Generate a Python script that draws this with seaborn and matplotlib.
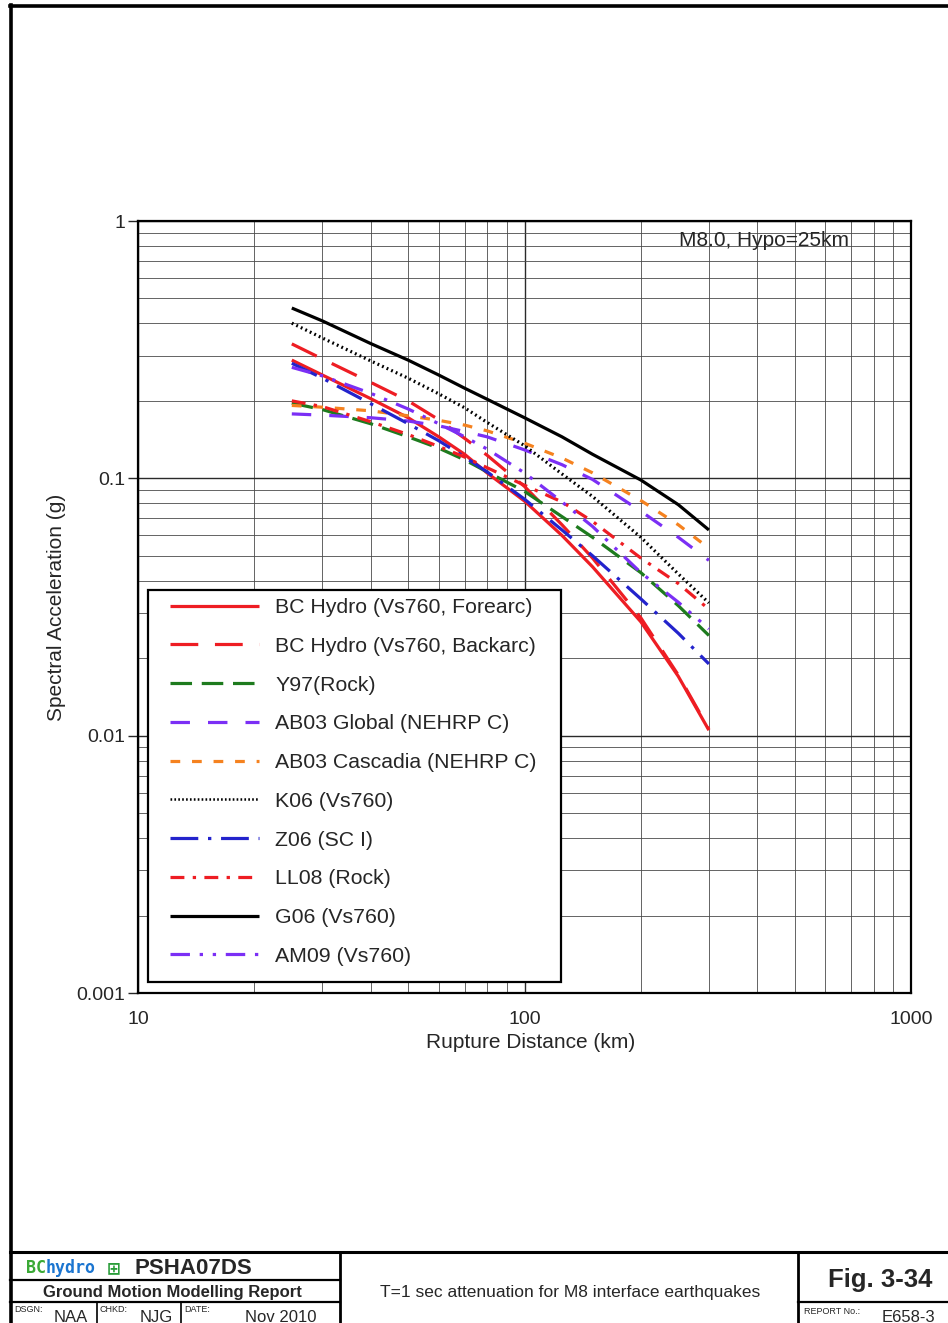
import numpy as np
import pandas as pd
import seaborn as sns
import matplotlib
matplotlib.use("Agg")
import matplotlib.pyplot as plt
from matplotlib.lines import Line2D
from matplotlib.patches import Rectangle
from matplotlib.ticker import LogLocator, FixedLocator, FixedFormatter, NullFormatter
from matplotlib import font_manager as fm

# ---------------- data ----------------
distance_km = [25, 30, 40, 50, 60, 70, 80, 100, 125, 150, 200, 250, 300]

bchydro_forearc = [0.288, 0.252, 0.204, 0.172, 0.145, 0.124, 0.105, 0.0816, 0.0600, 0.0453, 0.0277, 0.0170, 0.0105]
bchydro_backarc = [0.333, 0.291, 0.236, 0.200, 0.169, 0.143, 0.123, 0.093, 0.066, 0.049, 0.0287, 0.0172, 0.0106]
y97_rock        = [0.196, 0.185, 0.163, 0.145, 0.131, 0.118, 0.106, 0.089, 0.071, 0.059, 0.043, 0.032, 0.0245]
ab03_global     = [0.178, 0.176, 0.172, 0.167, 0.160, 0.152, 0.145, 0.129, 0.113, 0.099, 0.0745, 0.059, 0.048]
ab03_cascadia   = [0.192, 0.189, 0.183, 0.175, 0.168, 0.161, 0.153, 0.137, 0.120, 0.105, 0.082, 0.066, 0.0535]
k06             = [0.401, 0.351, 0.286, 0.245, 0.213, 0.188, 0.165, 0.134, 0.104, 0.085, 0.059, 0.0425, 0.0328]
z06             = [0.280, 0.245, 0.195, 0.163, 0.140, 0.121, 0.106, 0.083, 0.063, 0.050, 0.034, 0.025, 0.019]
ll08            = [0.200, 0.190, 0.166, 0.148, 0.133, 0.121, 0.110, 0.094, 0.081, 0.068, 0.049, 0.039, 0.031]
g06             = [0.459, 0.409, 0.334, 0.288, 0.252, 0.224, 0.203, 0.172, 0.145, 0.124, 0.0985, 0.079, 0.063]
am09            = [0.270, 0.250, 0.214, 0.186, 0.163, 0.145, 0.130, 0.105, 0.081, 0.065, 0.043, 0.033, 0.026]

series_names = ["BC Hydro (Vs760, Forearc)", "BC Hydro (Vs760, Backarc)", "Y97(Rock)",
                "AB03 Global (NEHRP C)", "AB03 Cascadia (NEHRP C)", "K06 (Vs760)",
                "Z06 (SC I)", "LL08 (Rock)", "G06 (Vs760)", "AM09 (Vs760)"]
series_values = [bchydro_forearc, bchydro_backarc, y97_rock, ab03_global, ab03_cascadia,
                 k06, z06, ll08, g06, am09]

x_tick_values = [10, 100, 1000]
x_tick_labels = ["10", "100", "1000"]
y_tick_values = [0.001, 0.01, 0.1, 1]
y_tick_labels = ["0.001", "0.01", "0.1", "1"]

# ---------------- styles ----------------
RED, GREEN, PURPLE, ORANGE, BLUE, BLACK = "#ee1d23", "#1e7b1e", "#7b2ff5", "#f5821f", "#2323cc", "#000000"
colors = [RED, RED, GREEN, PURPLE, ORANGE, BLACK, BLUE, RED, BLACK, PURPLE]
dash_styles = [None, (20, 12), (15.5, 7), (14, 13), (7, 8.5), (1.3, 2.3),
               (20, 7, 2.4, 7), (10, 6, 2.4, 6), None, (14, 7, 2.4, 7, 2.4, 7)]

sns.set_style("white")
plt.rcParams["font.family"] = ["Liberation Sans", "DejaVu Sans"]
plt.rcParams["lines.scale_dashes"] = False
plt.rcParams["lines.solid_capstyle"] = "butt"


def has_font(name):
    try:
        fm.findfont(fm.FontProperties(family=name), fallback_to_default=False)
        return True
    except Exception:
        return False


narrow_ok = has_font("Liberation Sans Narrow")
NARROW = ["Liberation Sans Narrow", "Liberation Sans", "DejaVu Sans"] if narrow_ok \
    else ["Liberation Sans", "DejaVu Sans"]

W, H = 948, 1323
fig = plt.figure(figsize=(W / 100, H / 100), dpi=100)
fig.patch.set_facecolor("white")

ax_l, ax_r, ax_t, ax_b = 138, 911, 221, 993
ax = fig.add_axes([ax_l / W, 1 - ax_b / H, (ax_r - ax_l) / W, (ax_b - ax_t) / H])

handles = []
for name, vals, c, d in zip(series_names, series_values, colors, dash_styles):
    sns.lineplot(x=distance_km, y=vals, ax=ax, color=c, lw=2.3, legend=False,
                 estimator=None, sort=False)
    ln = ax.lines[-1]
    if d is not None:
        ln.set_dashes(d)
    ln.set_zorder(3)
    h = Line2D([0], [0], color=c, lw=2.3)
    if d is not None:
        h.set_dashes(d)
    if name.startswith("K06"):
        h.set_dashes((1.2, 1.6))
        h.set_linewidth(1.8)
    handles.append(h)

ax.set_xscale("log")
ax.set_yscale("log")
ax.set_xlim(10, 1000)
ax.set_ylim(0.001, 1)

ax.xaxis.set_major_locator(FixedLocator(x_tick_values))
ax.xaxis.set_major_formatter(FixedFormatter(x_tick_labels))
ax.yaxis.set_major_locator(FixedLocator(y_tick_values))
ax.yaxis.set_major_formatter(FixedFormatter(y_tick_labels))
ax.xaxis.set_minor_locator(LogLocator(base=10, subs=np.arange(2, 10), numticks=20))
ax.yaxis.set_minor_locator(LogLocator(base=10, subs=np.arange(2, 10), numticks=20))
ax.xaxis.set_minor_formatter(NullFormatter())
ax.yaxis.set_minor_formatter(NullFormatter())

ax.set_axisbelow(True)
ax.grid(which="major", color="#2a2a2a", lw=1.0)
ax.grid(which="minor", color="#4a4a4a", lw=0.6)

ax.tick_params(axis="x", which="both", length=0, pad=13, labelsize=14)
ax.tick_params(axis="y", which="major", length=7, width=1.0, pad=2, labelsize=14, left=True, direction="out")
ax.tick_params(axis="y", which="minor", length=0)
for s in ax.spines.values():
    s.set_linewidth(1.6)
    s.set_color("black")

ax.set_xlabel("Rupture Distance (km)", fontsize=15)
ax.set_ylabel("Spectral Acceleration (g)", fontsize=15)
ax.xaxis.set_label_coords((531 - ax_l) / (ax_r - ax_l), -(1033 - ax_b) / (ax_b - ax_t))
ax.yaxis.set_label_coords(-(ax_l - 66) / (ax_r - ax_l), 0.5)

ax.text((849 - ax_l) / (ax_r - ax_l), (ax_b - 240) / (ax_b - ax_t), "M8.0, Hypo=25km",
        transform=ax.transAxes, ha="right", va="center", fontsize=15, zorder=6)

# legend box drawn as a rectangle
aw, ah = ax_r - ax_l, ax_b - ax_t
ax.add_patch(Rectangle(((148 - ax_l) / aw, (ax_b - 982) / ah), (561 - 148) / aw, (982 - 590) / ah,
                       transform=ax.transAxes, facecolor="white", edgecolor="black", lw=1.6,
                       zorder=4.5, clip_on=False))
leg = ax.legend(handles, series_names, loc="upper left",
                bbox_to_anchor=((170 - ax_l) / aw, (ax_b - 598) / ah),
                frameon=False, fontsize=15.3, handlelength=4.2, handletextpad=0.75,
                labelspacing=0.93, borderpad=0, borderaxespad=0)
leg.set_zorder(5)


# ---------------- page frame & title block ----------------
def L(x0, y0, x1, y1, lw=1.5):
    fig.add_artist(Line2D([x0 / W, x1 / W], [1 - y0 / H, 1 - y1 / H], transform=fig.transFigure,
                          color="black", lw=lw, solid_capstyle="projecting"))


def T(x, y, s, **kw):
    kw.setdefault("va", "center")
    kw.setdefault("ha", "left")
    return fig.text(x / W, 1 - y / H, s, **kw)


L(11, 5, 11, 1323, 2.6)
L(10, 6, 948, 6, 2.6)
L(10, 1252, 948, 1252, 2.2)
L(340, 1252, 340, 1323, 2.0)
L(798, 1252, 798, 1323, 2.0)
L(10, 1280, 340, 1280, 1.6)
L(10, 1302, 340, 1302, 1.6)
L(97, 1302, 97, 1323, 1.2)
L(181, 1302, 181, 1323, 1.2)
L(798, 1302, 948, 1302, 1.6)

T(26, 1268, "BC", color="#3aa935", fontsize=12, fontweight="bold", family=["DejaVu Sans Mono"])
T(46, 1268, "hydro", color="#1b75d0", fontsize=12, fontweight="bold", family=["DejaVu Sans Mono"])
T(114, 1268, "\u229e", color="#2a9d3a", fontsize=12, fontweight="bold", ha="center", family=["DejaVu Sans"])
T(134, 1268, "PSHA07DS", fontsize=16, fontweight="bold")
T(172, 1292, "Ground Motion Modelling Report", fontsize=14 if narrow_ok else 12, fontweight="bold",
  ha="center", family=NARROW)
T(14, 1310, "DSGN:", fontsize=6.5)
T(54, 1317, "NAA", fontsize=12)
T(100, 1310, "CHKD:", fontsize=6.5)
T(140, 1317, "NJG", fontsize=12)
T(184, 1310, "DATE:", fontsize=6.5)
T(245, 1317, "Nov 2010", fontsize=12)
T(570, 1292, "T=1 sec attenuation for M8 interface earthquakes", fontsize=15 if narrow_ok else 12.5,
  ha="center", family=NARROW)
T(880, 1280, "Fig. 3-34", fontsize=22 if narrow_ok else 18.5, fontweight="bold", ha="center", family=NARROW)
T(804, 1312, "REPORT No.:", fontsize=6.5)
T(882, 1317, "E658-3", fontsize=12)

fig.savefig("out.png", dpi=100, facecolor="white")
